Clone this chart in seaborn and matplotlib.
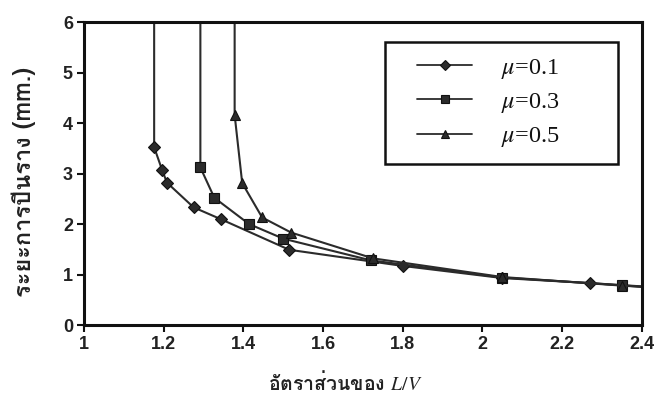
import pandas as pd
import seaborn as sns
import matplotlib.pyplot as plt
from matplotlib import font_manager
from matplotlib.ft2font import FT2Font
from matplotlib.legend_handler import HandlerLine2D

# L/V ratio vs climb distance (mm), one list pair per friction coefficient
lv_01 = [1.176, 1.176, 1.196, 1.208, 1.275, 1.345, 1.515, 1.80, 2.05, 2.27, 2.45]
climb_01 = [9.0, 3.52, 3.07, 2.82, 2.33, 2.09, 1.49, 1.17, 0.93, 0.83, 0.73]

lv_03 = [1.292, 1.292, 1.327, 1.414, 1.50, 1.72, 2.05, 2.35, 2.45]
climb_03 = [9.0, 3.12, 2.52, 2.00, 1.71, 1.28, 0.94, 0.79, 0.74]

lv_05 = [1.378, 1.378, 1.397, 1.447, 1.52, 1.725, 2.05, 2.35, 2.45]
climb_05 = [9.0, 4.16, 2.81, 2.13, 1.83, 1.32, 0.95, 0.78, 0.73]

mu_labels = [r"$\mu$=0.1", r"$\mu$=0.3", r"$\mu$=0.5"]
x_ticks = [1, 1.2, 1.4, 1.6, 1.8, 2, 2.2, 2.4]
x_ticklabels = ["1", "1.2", "1.4", "1.6", "1.8", "2", "2.2", "2.4"]
y_ticks = [0, 1, 2, 3, 4, 5, 6]

df = pd.concat([
    pd.DataFrame({"lv": lv_01, "climb": climb_01, "mu": mu_labels[0]}),
    pd.DataFrame({"lv": lv_03, "climb": climb_03, "mu": mu_labels[1]}),
    pd.DataFrame({"lv": lv_05, "climb": climb_05, "mu": mu_labels[2]}),
], ignore_index=True)


def thai_font():
    # pick any installed font that has Thai glyphs
    for f in font_manager.fontManager.ttflist:
        try:
            if 0x0E23 in FT2Font(f.fname).get_charmap():
                return f.name
        except Exception:
            pass
    return "DejaVu Sans"


sns.set_style("ticks")
plt.rcParams["mathtext.fontset"] = "stix"
thai = thai_font()

ink = "#2b2b2b"
fig = plt.figure(figsize=(6.59, 4.04), dpi=100)
ax = fig.add_axes([0.1275, 0.1955, 0.8465, 0.75])

sns.lineplot(data=df, x="lv", y="climb", hue="mu", style="mu",
             palette=[ink, ink, ink], markers=["D", "s", "^"], dashes=False,
             sort=False, estimator=None, linewidth=1.5, markersize=6.5,
             markeredgecolor="#111111", markeredgewidth=0.8, ax=ax)

ax.set_xlim(1, 2.4)
ax.set_ylim(0, 6)
ax.set_xticks(x_ticks)
ax.set_xticklabels(x_ticklabels)
ax.set_yticks(y_ticks)
for lab in ax.get_xticklabels() + ax.get_yticklabels():
    lab.set_fontfamily("Liberation Sans")
    lab.set_fontweight("bold")
    lab.set_fontsize(13)
    lab.set_color("#222222")
ax.tick_params(direction="out", length=5, width=1.5, color="#111111", pad=3)
for sp in ax.spines.values():
    sp.set_linewidth(2.2)
    sp.set_color("#111111")

ax.set_xlabel("อัตราส่วนของ $L/V$", fontfamily=[thai, "DejaVu Sans"],
              fontsize=14, fontweight="bold", color="#222222")
ax.xaxis.set_label_coords(0.468, -0.15)
ax.set_ylabel("ระยะการปีนราง (mm.)", fontfamily=[thai, "DejaVu Sans"],
              fontsize=17, fontweight="bold", color="#222222")
ax.yaxis.set_label_coords(-0.086, 0.472)

handles, labels = ax.get_legend_handles_labels()
for h in handles:
    h.set_markersize(5.5)
    h.set_linewidth(1.3)
leg = ax.legend(handles, labels, loc="upper left",
                bbox_to_anchor=(0.539, 0.934, 0.419, 0.0), mode="expand",
                handler_map={h: HandlerLine2D(xpad=0.74) for h in handles},
                frameon=True, fancybox=False, edgecolor="#111111",
                prop={"family": "Liberation Serif", "size": 17.5},
                handlelength=3.0, handletextpad=1.2, labelspacing=0.42,
                borderpad=0.6, borderaxespad=0)
leg.get_frame().set_linewidth(1.8)
leg.get_frame().set_alpha(1)
for t in leg.get_texts():
    t.set_color("#111111")

fig.savefig("out.png", dpi=100)
